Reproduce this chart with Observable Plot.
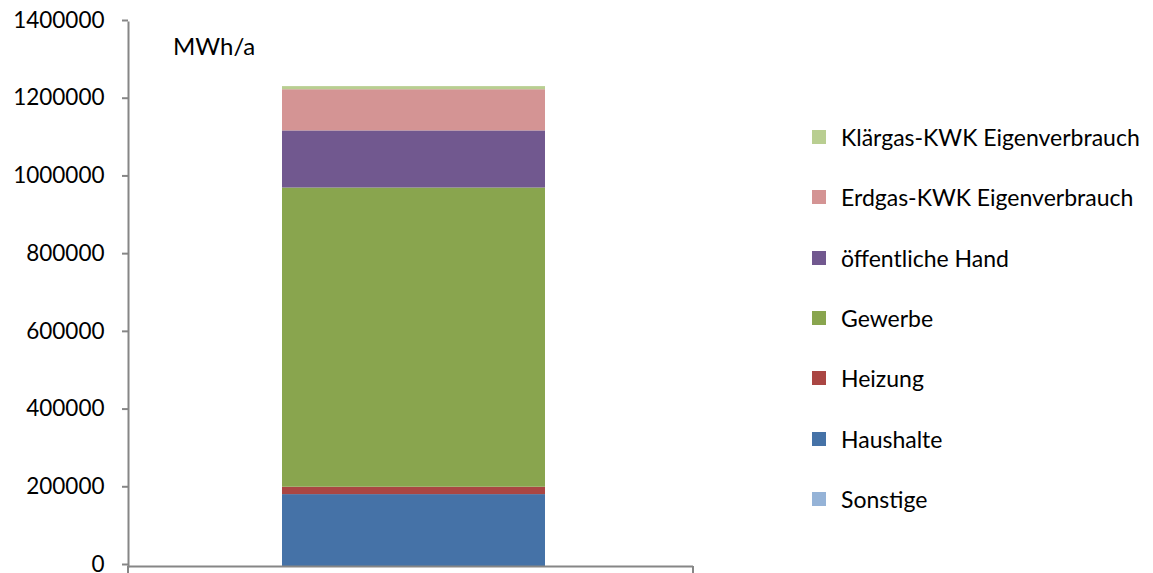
<!DOCTYPE html>
<html>
<head>
<meta charset="utf-8">
<script src="https://cdn.jsdelivr.net/npm/d3@7"></script>
<script src="https://cdn.jsdelivr.net/npm/@observablehq/plot@0.6"></script>
<style>
  html, body { margin: 0; padding: 0; background: #fff; }
  #wrap { position: relative; width: 1153px; height: 573px; font-family: Lato, "Open Sans", sans-serif; overflow: hidden; }
  #unit { position: absolute; left: 173px; top: 31px; font-size: 24px; color: #000; }
  #legend { position: absolute; left: 812px; top: 0; }
  .item { position: absolute; left: 0; display: flex; align-items: center; white-space: nowrap; font-size: 23px; color: #000; }
  .sw { width: 14px; height: 14px; margin-right: 15px; flex: none; }
</style>
</head>
<body>
<div id="wrap">
  <div id="chart"></div>
  <div id="unit">MWh/a</div>
  <div id="legend"></div>
</div>
<script>
// Data (bottom to top of stack)
const category = ["Strom"];
const series = ["Sonstige", "Haushalte", "Heizung", "Gewerbe", "öffentliche Hand", "Erdgas-KWK Eigenverbrauch", "Klärgas-KWK Eigenverbrauch"];
const values = [0, 185000, 19000, 770000, 147000, 106000, 8000];
const colors = ["#95B3D7", "#4572A7", "#AA4643", "#89A54E", "#71588F", "#D49494", "#B9CE91"];
const yTicks = [0, 200000, 400000, 600000, 800000, 1000000, 1200000, 1400000];

const data = series.map((s, i) => ({cat: category[0], series: s, value: values[i]}));

const chart = Plot.plot({
  width: 1153,
  height: 573,
  marginLeft: 128,
  marginRight: 460,
  marginTop: 22,
  marginBottom: 7,
  style: {fontFamily: "Lato, 'Open Sans', sans-serif", fontSize: "22px", color: "#000", background: "#fff", overflow: "visible"},
  x: {domain: category, padding: 0.3647, align: 0.51, axis: null},
  y: {domain: [0, 1400000], axis: null},
  color: {domain: series, range: colors},
  marks: [
    Plot.barY(data, {x: "cat", y: "value", fill: "series", order: series}),
    Plot.axisY({ticks: yTicks, tickFormat: d => String(d), tickSize: 6, tickPadding: 18, stroke: "#868686", strokeWidth: 2, fill: "#000", fontSize: 22.5, dy: -2, label: null}),
    Plot.frame({anchor: "left", stroke: "#868686", strokeWidth: 2}),
    Plot.ruleY([0], {stroke: "#868686", strokeWidth: 2})
  ]
});
document.getElementById("chart").appendChild(chart);

// category-axis end tick marks (Excel style), positioned from the x scale
const xs = chart.scale("x");
const yr = chart.scale("y").range;
const svg = d3.select(chart);
[xs.range[0], xs.range[1]].forEach(px => {
  svg.append("line").attr("x1", px).attr("x2", px).attr("y1", yr[0]).attr("y2", yr[0] + 7)
    .attr("stroke", "#868686").attr("stroke-width", 2);
});

// legend (top series first)
const leg = document.getElementById("legend");
const rowTop = 137, rowStep = 60.3;
series.slice().reverse().forEach((s, i) => {
  const idx = series.indexOf(s);
  const div = document.createElement("div");
  div.className = "item";
  div.style.top = (rowTop + i * rowStep - 15) + "px";
  div.style.height = "30px";
  div.innerHTML = `<span class="sw" style="background:${colors[idx]}"></span><span>${s}</span>`;
  leg.appendChild(div);
});
</script>
</body>
</html>
